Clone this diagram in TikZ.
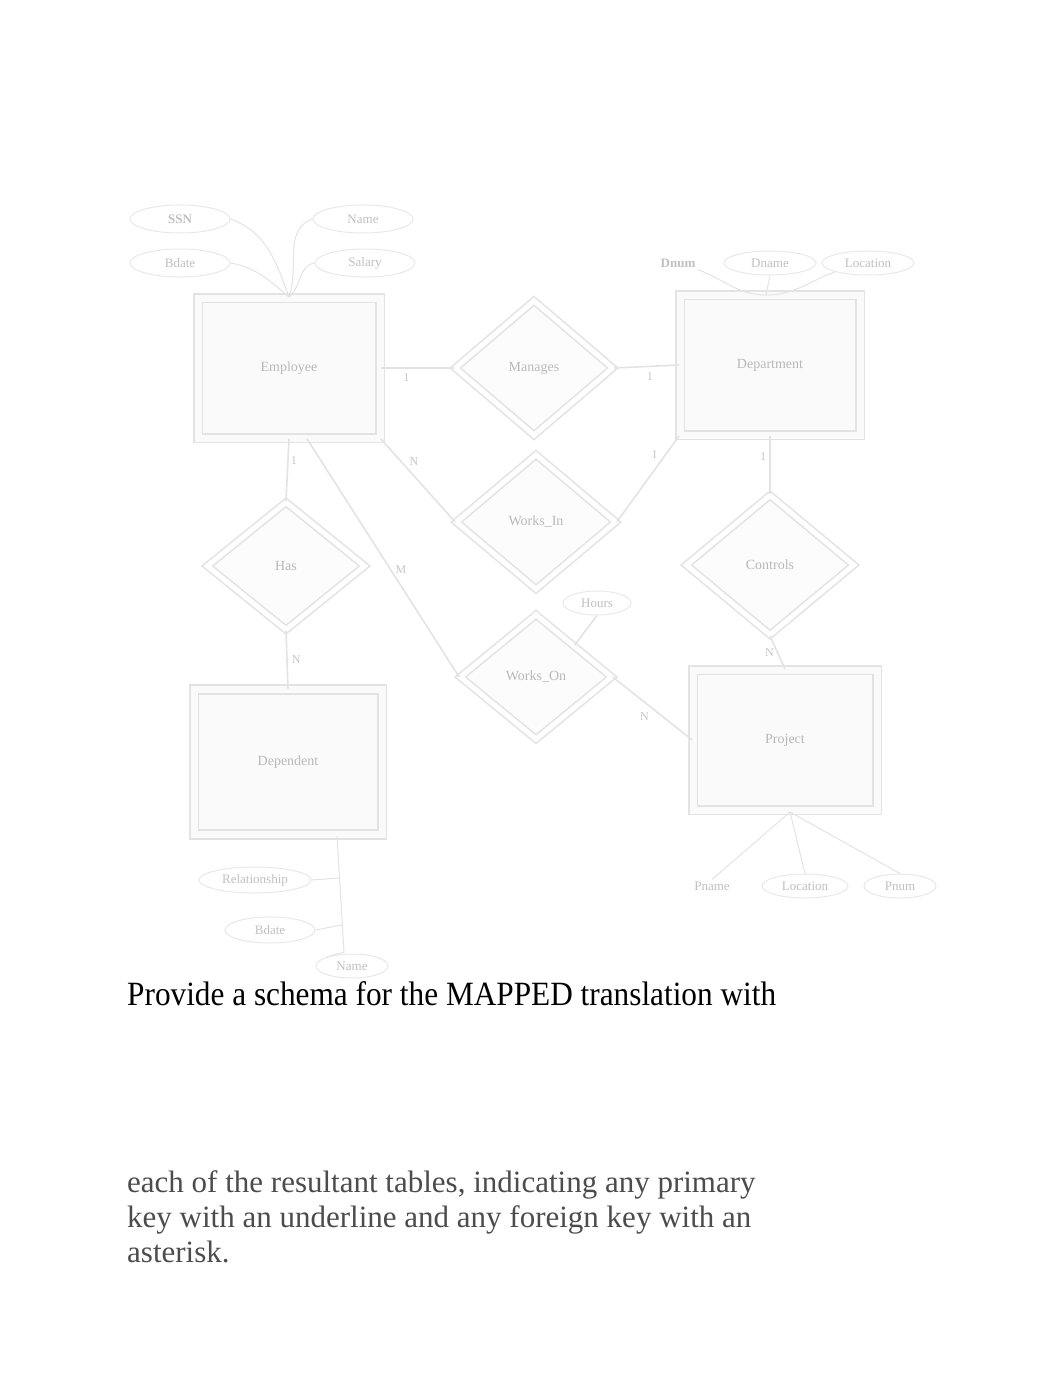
\documentclass[tikz,border=0pt]{standalone}
\usepackage{fontspec}
\setmainfont{Liberation Serif}
\usetikzlibrary{shapes.geometric}
\begin{document}
\begin{tikzpicture}[x=1pt,y=-1pt,
  ent/.style={rectangle,draw=gray!22,line width=1.6pt,double=gray!4,double distance=7pt,fill=gray!4,minimum width=#1,minimum height=140pt,font=\fontsize{14}{16}\selectfont,text=gray!55},
  ent/.default=180pt,
  rel/.style={diamond,draw=gray!22,line width=1.6pt,double=white,double distance=5pt,fill=gray!2,inner sep=0pt,minimum width=#1,minimum height=135pt,font=\fontsize{14}{16}\selectfont,text=gray!55},
  rel/.default=150pt,
  attr/.style={ellipse,draw=gray!18,line width=1pt,minimum width=#1,minimum height=28pt,inner sep=1pt,font=\fontsize{13}{15}\selectfont,text=gray!50},
  attr/.default=100pt,
  bare/.style={font=\fontsize{13}{15}\selectfont,text=gray!50,inner sep=2pt},
  conn/.style={draw=gray!22,line width=1.6pt},
  card/.style={font=\fontsize{12}{14}\selectfont,text=gray!45,inner sep=1pt}]
\useasboundingbox (0,0) rectangle (1062,1376);
% entities
\node[ent=182pt] (emp) at (289,368) {Employee};
\node[ent] (dept) at (770,365) {Department};
\node[ent=188pt,minimum height=145pt] (dep) at (288,762) {Dependent};
\node[ent=184pt] (proj) at (785,740) {Project};
% relationships
\node[rel=158pt] (man) at (534,368) {Manages};
\node[rel=160pt] (wf) at (536,522) {Works\_In};
\node[rel=158pt,minimum height=128pt] (dof) at (286,566) {Has};
\node[rel=168pt,minimum height=140pt] (ctl) at (770,565) {Controls};
\node[rel=152pt,minimum height=125pt] (won) at (536,677) {Works\_On};
\node[attr=68pt,minimum height=24pt] (hrs) at (597,603) {Hours};
% employee attributes
\node[attr] (e1) at (180,219) {\textbf{SSN}};
\node[attr] (e2) at (180,263) {Bdate};
\node[attr] (e3) at (363,219) {Name};
\node[attr] (e4) at (365,263) {Salary};
\coordinate (et) at (289,297);
\draw[conn,line width=1pt] (e1.east) to[out=-20,in=110] (et);
\draw[conn,line width=1pt] (e2.east) to[out=-10,in=140] (et);
\draw[conn,line width=1pt] (e3.west) to[out=200,in=70] (et);
\draw[conn,line width=1pt] (e4.west) to[out=190,in=40] (et);
% department attributes
\node[bare] (d1) at (678,263) {\textbf{Dnum}};
\node[attr=92pt,minimum height=24pt] (d2) at (770,263) {Dname};
\node[attr=92pt,minimum height=24pt] (d3) at (868,263) {Location};
\coordinate (dt) at (766,295);
\draw[conn,line width=1pt] (d1.south east) to[out=-20,in=180] (dt);
\draw[conn,line width=1pt] (d3.south west) to[out=200,in=0] (dt);
\draw[conn,line width=1pt] (d2.south) -- (dt);
% project attributes
\node[bare] (p1) at (712,886) {Pname};
\node[attr=86pt,minimum height=24pt] (p2) at (805,886) {Location};
\node[attr=72pt,minimum height=24pt] (p3) at (900,886) {Pnum};
\coordinate (pb) at (790,812);
\draw[conn,line width=1pt] (pb) -- (p1.north);
\draw[conn,line width=1pt] (pb) -- (p2.north);
\draw[conn,line width=1pt] (pb) -- (p3.north);
% dependent attributes
\node[attr=112pt,minimum height=26pt] (a1) at (255,880) {Relationship};
\node[attr=90pt,minimum height=26pt] (a2) at (270,930) {Bdate};
\node[attr=72pt,minimum height=24pt] (a3) at (352,966) {Name};
\coordinate (db) at (337,836);
\coordinate (dj) at (344,952);
\draw[conn,line width=1pt] (db) -- (dj) -- (a3.north west);
\draw[conn,line width=1pt] (a1.east) -- (340,878);
\draw[conn,line width=1pt] (a2.east) -- (342,925);
% connectors
\draw[conn] (emp.east) -- (man.west) node[card,pos=0.35,below=4pt] {1};
\draw[conn] (man.east) -- (dept.west) node[card,pos=0.55,below=4pt] {1};
\draw[conn] (emp.south east) -- (wf.west) node[card,pos=0.35,above right=1pt] {N};
\draw[conn] (dept.south west) -- (wf.east) node[card,pos=0.3,above left=1pt] {1};
\draw[conn] (emp.south) -- (dof.north) node[card,pos=0.35,right=1pt] {1};
\draw[conn] (dof.south) -- (dep.north) node[card,pos=0.5,right=3pt] {N};
\draw[conn] (emp.south)++(18,0) coordinate (es) (es) -- (won.west) node[card,pos=0.55,right=3pt] {M};
\draw[conn] (won.east) -- (proj.west) node[card,pos=0.5,below left=2pt] {N};
\draw[conn] (won.north east) -- (hrs.south);
\draw[conn] (dept.south) -- (ctl.north) node[card,pos=0.35,left=2pt] {1};
\draw[conn] (ctl.south) -- (proj.north) node[card,pos=0.5,left=2pt] {N};
% text
\node[anchor=base west,inner sep=0pt] (q1) at (127,1005) {\scalebox{0.92}[1]{\fontsize{34}{40}\selectfont Provide a schema for the MAPPED translation with}};
\node[anchor=base west,inner sep=0pt,text=black!70,align=left,font=\fontsize{31}{35}\selectfont] (q2) at (127,1262) {each of the resultant tables, indicating any primary\\key with an underline and any foreign key with an\\asterisk.};
\end{tikzpicture}
\end{document}
